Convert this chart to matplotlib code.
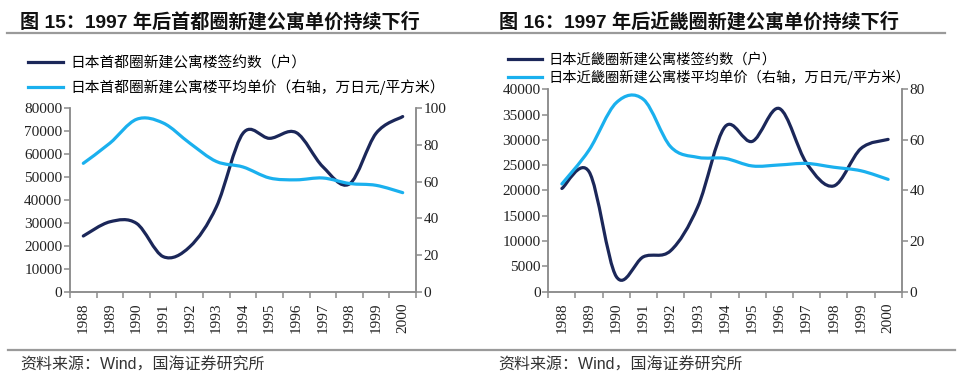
import matplotlib

matplotlib.use("Agg")
import matplotlib.lines
import matplotlib.patches
import matplotlib.path
import matplotlib.pyplot
import numpy

YEARS = ["1988", "1989", "1990", "1991", "1992", "1993", "1994",
         "1995", "1996", "1997", "1998", "1999", "2000"]

# 首都圈
SHUTO_COUNT = [24300, 30500, 29800, 15300, 19600, 37000, 69100,
               66900, 69400, 54500, 47000, 69100, 76400]
SHUTO_PRICE = [70, 81, 94, 92, 81, 71, 68, 62, 61, 62, 59, 58, 54]

# 近畿圈
KINKI_COUNT = [20400, 23700, 3000, 6900, 8100, 16800, 32600,
               29700, 36200, 25400, 20900, 28300, 30100]
KINKI_PRICE = [42.6, 56, 74.7, 76, 57.3, 53.1, 52.7, 49.7, 50.1, 50.7, 49.2, 47.8, 44.4]

NAVY = "#1b2759"
SKY = "#1ab0ee"
GRAY = "#8c8c8c"
CJK = ["Noto Sans CJK SC", "DejaVu Sans"]
SERIF = ["Liberation Serif", "DejaVu Serif"]
MIXED = ["Liberation Sans", "Noto Sans CJK SC", "DejaVu Sans"]

W, H = 960, 391


def fx(px):
    return px / W


def fy(py):
    return 1 - py / H


def smooth_path(x, y):
    # excel-like smoothed line: cubic bezier with catmull-rom control points
    x = numpy.asarray(x, dtype=float)
    y = numpy.asarray(y, dtype=float)
    pts = numpy.column_stack([x, y])
    n = len(pts)
    verts = [pts[0]]
    codes = [matplotlib.path.Path.MOVETO]
    for i in range(n - 1):
        p0 = pts[max(i - 1, 0)]
        p1 = pts[i]
        p2 = pts[i + 1]
        p3 = pts[min(i + 2, n - 1)]
        c1 = p1 + (p2 - p0) / 6
        c2 = p2 - (p3 - p1) / 6
        verts += [c1, c2, p2]
        codes += [matplotlib.path.Path.CURVE4] * 3
    return matplotlib.path.Path(verts, codes)


def draw_series(ax, values, color):
    x = numpy.arange(len(values))
    patch = matplotlib.patches.PathPatch(
        smooth_path(x, values), facecolor="none", edgecolor=color,
        lw=2.3, capstyle="round", joinstyle="round",
    )
    ax.add_patch(patch)
    return matplotlib.lines.Line2D([], [], color=color, lw=2.3)


def style_axes(ax, ax2, ymax, ystep, y2max, y2step):
    n = len(YEARS)
    ax.set_xlim(-0.5, n - 0.5)
    ax.set_ylim(0, ymax)
    ax2.set_ylim(0, y2max)
    ax.set_yticks(numpy.arange(0, ymax + 1, ystep))
    ax2.set_yticks(numpy.arange(0, y2max + 1, y2step))
    ax.set_xticks(numpy.arange(n + 1) - 0.5)
    ax.set_xticklabels([])
    ax.set_xticks(numpy.arange(n), minor=True)
    ax.set_xticklabels(YEARS, minor=True, rotation=90, family=SERIF, fontsize=11)
    ax.tick_params(axis="x", which="major", length=4, width=1.1, color=GRAY)
    ax.tick_params(axis="x", which="minor", length=0, pad=8)
    ax.tick_params(axis="y", length=4, width=1.1, color=GRAY, pad=1.5)
    ax2.tick_params(axis="y", length=4, width=1.1, color=GRAY, pad=1.5)
    for a in (ax, ax2):
        for lab in a.get_yticklabels():
            lab.set_family(SERIF)
            lab.set_fontsize(11)
            lab.set_color("#222222")
        a.spines["top"].set_visible(False)
        for s in ("left", "right", "bottom"):
            a.spines[s].set_color(GRAY)
            a.spines[s].set_linewidth(1.1)
    for lab in ax.get_xticklabels(minor=True):
        lab.set_color("#222222")


def panel(fig, rect, title, title_x, count, price, labels, ymax, ystep,
          y2max, y2step, legend_xy, legend_space, legend_size, source_x):
    ax = fig.add_axes(rect)
    ax2 = ax.twinx()
    h1 = draw_series(ax, count, NAVY)
    h2 = draw_series(ax2, price, SKY)
    style_axes(ax, ax2, ymax, ystep, y2max, y2step)
    fig.text(fx(title_x), fy(22), title, family=MIXED, fontsize=13.8,
             fontweight="bold", va="center", ha="left", color="#111111")
    fig.legend(
        [h1, h2], labels, loc="upper left",
        bbox_to_anchor=(fx(legend_xy[0]), fy(legend_xy[1])),
        frameon=False, borderpad=0, borderaxespad=0,
        handlelength=2.4, handletextpad=0.45, labelspacing=legend_space,
        prop={"family": CJK, "size": legend_size},
    )
    fig.text(fx(source_x), fy(365), "资料来源：Wind，国海证券研究所",
             family=MIXED, fontsize=11.5, va="center", ha="left", color="#333333")
    return ax


def main():
    fig = matplotlib.pyplot.figure(figsize=(W / 100, H / 100), dpi=100)

    panel(
        fig, [fx(70), fy(291.7), fx(346), 183.4 / H],
        "图 15：1997 年后首都圈新建公寓单价持续下行", 20,
        SHUTO_COUNT, SHUTO_PRICE,
        ["日本首都圈新建公寓楼签约数（户）",
         "日本首都圈新建公寓楼平均单价（右轴，万日元/平方米）"],
        80000, 10000, 100, 20, (28, 56), 0.62, 10.6, 20,
    )
    panel(
        fig, [fx(548.3), fy(291.7), fx(353.4), 202.4 / H],
        "图 16：1997 年后近畿圈新建公寓单价持续下行", 499,
        KINKI_COUNT, KINKI_PRICE,
        ["日本近畿圈新建公寓楼签约数（户）",
         "日本近畿圈新建公寓楼平均单价（右轴，万日元/平方米）"],
        40000, 5000, 80, 20, (508, 53), 0.2, 10.3, 498,
    )

    for y, x0, x1 in ((33, 7, 945), (350, 8, 955)):
        fig.add_artist(matplotlib.lines.Line2D(
            [fx(x0), fx(x1)], [fy(y), fy(y)], color="#9a9a9a", lw=1.6,
            transform=fig.transFigure,
        ))

    fig.savefig("out.png", dpi=100)


if __name__ == "__main__":
    main()
